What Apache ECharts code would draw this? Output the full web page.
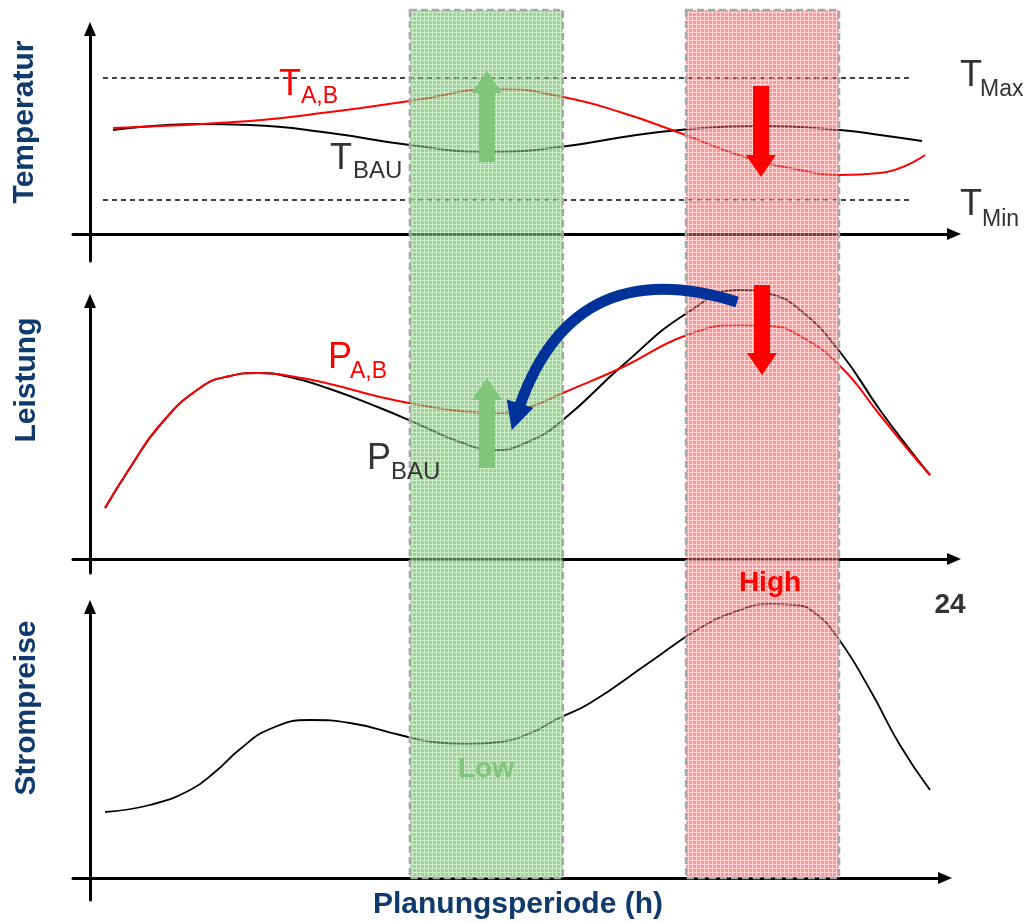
<!DOCTYPE html>
<html><head><meta charset="utf-8">
<script src="https://cdn.jsdelivr.net/npm/echarts@6/dist/echarts.min.js"></script>
<style>html,body{margin:0;padding:0;background:#fff}#c{width:1027px;height:922px}</style>
</head><body><div id="c"></div>
<script>
// ---------------- DATA (x = hour of planning period, y = relative units) ----------------
const tempBAU = [[0.66,10.4],[3.14,11.0],[4.57,10.9],[6.86,10.1],[9.14,8.9],[11.43,8.2],[13.43,8.7],[15.43,9.8],[16.86,10.4],[19.14,10.8],[21.43,10.4],[22.57,9.9],[23.77,9.3]];
const tempAB  = [[0.66,10.6],[4.57,11.3],[6.86,12.2],[9.14,13.3],[11.71,14.5],[13.51,13.7],[15.14,12.2],[16.86,10.1],[18.71,7.7],[20.29,6.4],[21.43,5.9],[22.57,6.1],[23.86,7.9]];
const tLimits = [15.6, 3.4];          // T_Max, T_Min
const tLimitSpan = [0.37, 23.5];      // hours covered by dashed limit lines
const powerBAU = [[0.43,5.1],[1.14,9.1],[2.0,13.4],[3.14,17.1],[4.0,18.3],[4.8,18.6],[5.71,18.2],[6.86,17.0],[8.29,15.1],[9.43,13.4],[10.57,11.7],[11.57,10.9],[12.57,11.8],[13.51,13.9],[15.23,19.4],[17.06,24.6],[18.57,26.9],[19.43,26.5],[20.29,24.9],[21.43,20.7],[22.57,14.9],[23.43,10.9],[24.0,8.4]];
const powerAB  = [[0.43,5.1],[1.14,9.1],[2.0,13.4],[3.14,17.1],[4.0,18.3],[4.8,18.6],[5.71,18.3],[6.86,17.5],[8.29,16.2],[9.43,15.4],[10.57,14.8],[11.63,14.6],[12.57,15.2],[13.51,16.6],[15.23,19.2],[17.06,22.4],[18.57,23.4],[19.43,23.3],[20.29,22.3],[21.43,19.3],[22.57,14.4],[23.43,10.7],[24.0,8.4]];
const price = [[0.43,6.6],[1.71,7.3],[2.86,8.8],[3.57,10.6],[4.29,12.9],[5.14,14.9],[6.29,15.8],[7.43,15.5],[8.86,14.3],[9.8,13.6],[10.77,13.4],[11.71,13.6],[12.66,14.6],[13.29,15.8],[14.29,17.5],[16.0,21.6],[17.43,25.0],[18.57,26.8],[19.43,27.4],[20.14,27.3],[20.71,26.5],[21.37,24.0],[22.29,18.8],[23.14,13.3],[24.0,8.8]];
const lowBand  = [9.14, 13.51];
const highBand = [17.03, 21.4];
// arrows: [hour, from, to]
const tempUpArrow    = [11.34, 7.2, 15.2];
const tempDownArrow  = [19.17, 14.8, 6.8];
const powerUpArrow   = [11.34, 9.1, 17.0];
const powerDownArrow = [19.2, 27.4, 19.5];
const shiftArrow = [[18.49, 25.7], [12.17, 14.2]];

// ---------------- LAYOUT ----------------
const FONT = '"Liberation Sans", Arial, sans-serif';
const X0 = 90, PXH = 35, UNIT = 10;     // pixel of hour 0, px per hour, px per y unit
const GL = 73;
const panels = [
  {top: 29,  bottom: 261, zero: 234, right: 954},
  {top: 301, bottom: 573, zero: 559, right: 954},
  {top: 607, bottom: 900, zero: 878, right: 945}
];
const ARROW = 'path://M6,0 L12,14 L0,14 Z';
const grids = [], xAxes = [], yAxes = [];
panels.forEach((p, i) => {
  grids.push({left: GL, top: p.top, width: p.right - GL, height: p.bottom - p.top});
  const axLine = {show: true, onZero: true, symbol: ['none', ARROW], symbolSize: [12, 14], lineStyle: {color: '#000', width: 3}};
  xAxes.push({gridIndex: i, type: 'value', min: (GL - X0) / PXH, max: (p.right - X0) / PXH,
    axisLine: axLine, axisTick: {show: false}, axisLabel: {show: false}, splitLine: {show: false}});
  yAxes.push({gridIndex: i, type: 'value', min: -(p.bottom - p.zero) / UNIT, max: (p.zero - p.top) / UNIT,
    axisLine: axLine, axisTick: {show: false}, axisLabel: {show: false}, splitLine: {show: false}});
});
// background grid for the highlighted periods
grids.push({left: GL, top: 10, width: 954 - GL, height: 878 - 10});
xAxes.push({gridIndex: 3, type: 'value', show: false, min: (GL - X0) / PXH, max: (954 - X0) / PXH});
yAxes.push({gridIndex: 3, type: 'value', show: false, min: 0, max: 1});

function makePattern(base, line) {
  const c = document.createElement('canvas'); c.width = 4; c.height = 4;
  const g = c.getContext('2d');
  g.fillStyle = base; g.fillRect(0, 0, 4, 4);
  g.clearRect(0, 0, 4, 1); g.clearRect(0, 0, 1, 4);
  g.fillStyle = line; g.fillRect(0, 0, 4, 1); g.fillRect(0, 0, 1, 4);
  return {image: c, repeat: 'repeat'};
}
const patterns = [makePattern('rgba(105,190,95,0.66)', 'rgba(190,228,185,0.7)'),
                  makePattern('rgba(255,70,70,0.58)', 'rgba(255,200,200,0.7)')];

function curve(data, color, gi, width) {
  return {type: 'line', xAxisIndex: gi, yAxisIndex: gi, data: data, smooth: 0.5, showSymbol: false, clip: false,
    lineStyle: {color: color, width: width || 2}, z: 2, silent: true};
}
const HEAD = 'path://M0,0 L0,0 M30,30 L30,30 M15,4 L30,26 L0,26 Z';
function blockArrow(a, gi, color) {
  return {type: 'lines', coordinateSystem: 'cartesian2d', xAxisIndex: gi, yAxisIndex: gi, z: 8, clip: false, silent: true,
    symbol: ['none', HEAD], symbolSize: 30,
    lineStyle: {color: color, width: 16, opacity: 1, curveness: 0},
    data: [{coords: [[a[0], a[1]], [a[0], a[2]]]}]};
}
function limitLine(v) {
  return {type: 'line', xAxisIndex: 0, yAxisIndex: 0, data: [[tLimitSpan[0], v], [tLimitSpan[1], v]], showSymbol: false, silent: true,
    lineStyle: {color: '#000', width: 1.3, type: [5, 4]}, z: 2};
}

function txt(x, baseline, text, size, color, extra) {
  return {type: 'text', z: 100, x: x, y: baseline - 0.35 * size,
    style: {text: text, font: (extra && extra.bold ? 'bold ' : '') + size + 'px ' + FONT, fill: color,
      align: (extra && extra.align) || 'left', verticalAlign: 'middle'}};
}
const RED = '#ff0000', GRAY = '#333333', NAVY = '#0f3a6e', GREEN = '#80c67a';
const graphics = [
  txt(279, 98, 'T', 36, RED), txt(301, 105, 'A,B', 23, RED),
  txt(330, 172, 'T', 36, GRAY), txt(353, 180, 'BAU', 24, GRAY),
  txt(960, 89, 'T', 36, GRAY), txt(980, 98, 'Max', 23, GRAY),
  txt(960, 218, 'T', 36, GRAY), txt(982, 228, 'Min', 23, GRAY),
  txt(328, 371, 'P', 36, RED), txt(350, 380, 'A,B', 23, RED),
  txt(367, 472, 'P', 36, GRAY), txt(391, 481, 'BAU', 24, GRAY),
  txt(770, 593, 'High', 28, RED, {bold: true, align: 'center'}),
  txt(486, 779, 'Low', 28, GREEN, {bold: true, align: 'center'}),
  txt(950, 615, '24', 28, GRAY, {bold: true, align: 'center'}),
  txt(518, 915, 'Planungsperiode (h)', 30, NAVY, {bold: true, align: 'center'}),
  {type: 'text', z: 100, x: 25, y: 122, rotation: Math.PI / 2, style: {text: 'Temperatur', font: 'bold 30px ' + FONT, fill: NAVY, align: 'center', verticalAlign: 'middle'}},
  {type: 'text', z: 100, x: 27, y: 380, rotation: Math.PI / 2, style: {text: 'Leistung', font: 'bold 30px ' + FONT, fill: NAVY, align: 'center', verticalAlign: 'middle'}},
  {type: 'text', z: 100, x: 27, y: 708, rotation: Math.PI / 2, style: {text: 'Strompreise', font: 'bold 30px ' + FONT, fill: NAVY, align: 'center', verticalAlign: 'middle'}}
];

const series = [
  limitLine(tLimits[0]), limitLine(tLimits[1]),
  curve(tempBAU, '#000', 0), curve(tempAB, RED, 0),
  curve(powerBAU, '#000', 1), curve(powerAB, RED, 1),
  curve(price, '#000', 2, 1.8),
  {type: 'custom', xAxisIndex: 3, yAxisIndex: 3, z: 5, silent: true,
    data: [[lowBand[0], lowBand[1], 0], [highBand[0], highBand[1], 1]],
    renderItem: function (params, api) {
      const a = api.coord([api.value(0), 1]), b = api.coord([api.value(1), 0]);
      return {type: 'rect', shape: {x: a[0], y: a[1], width: b[0] - a[0], height: b[1] - a[1]},
        style: {fill: patterns[api.value(2)], stroke: '#a8a8a8', lineWidth: 2.5, lineDash: [7, 4]}};
    }},
  {type: 'lines', coordinateSystem: 'cartesian2d', xAxisIndex: 1, yAxisIndex: 1, z: 6, clip: false, silent: true,
    symbol: ['none', 'path://M15,0 L30,30 L0,30 Z'], symbolSize: 28,
    lineStyle: {color: '#003399', width: 11, opacity: 1, curveness: -0.5},
    data: [{coords: shiftArrow}]},
  blockArrow(tempUpArrow, 0, GREEN), blockArrow(tempDownArrow, 0, RED),
  blockArrow(powerUpArrow, 1, GREEN), blockArrow(powerDownArrow, 1, RED)
];

const chart = echarts.init(document.getElementById('c'), null, {renderer: 'canvas'});
chart.setOption({animation: false, backgroundColor: '#fff', grid: grids, xAxis: xAxes, yAxis: yAxes, series: series, graphic: graphics});
</script></body></html>
